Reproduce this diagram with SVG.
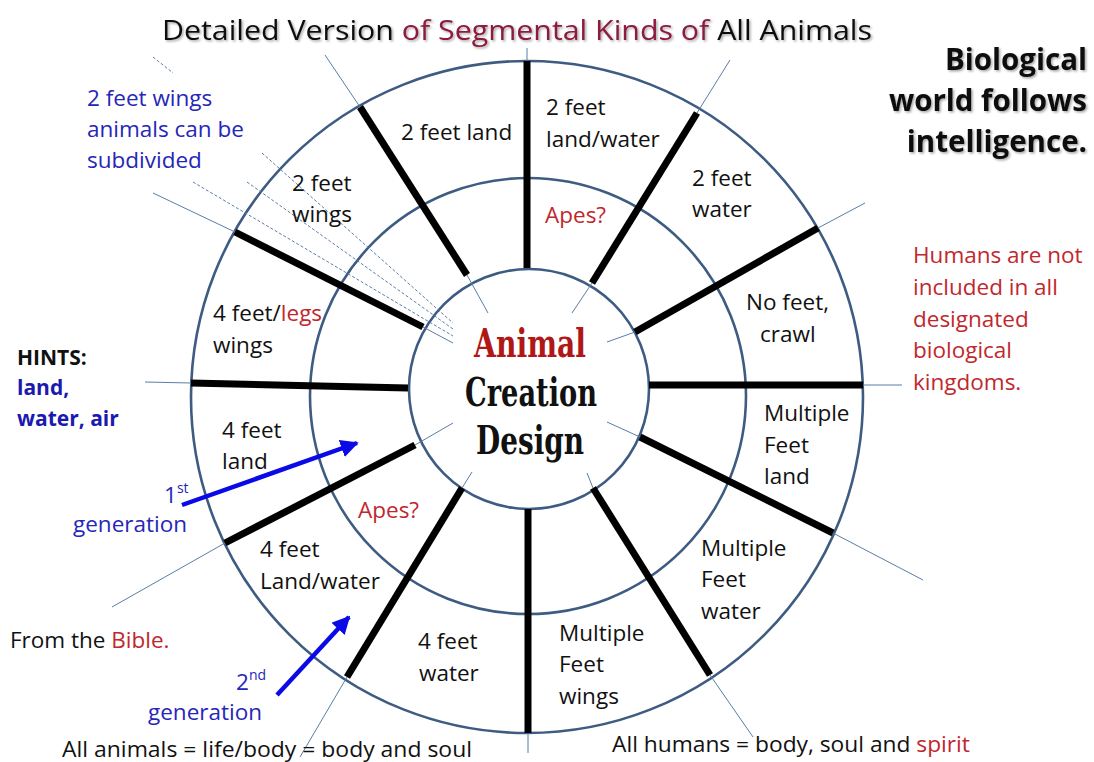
<svg xmlns="http://www.w3.org/2000/svg" width="1094" height="762" viewBox="0 0 1094 762">
<defs>
<style>
.ring{fill:none;stroke:#3E5C82;stroke-width:2.6}
.spoke{stroke:#000;stroke-width:7;stroke-linecap:butt}
.thin{stroke:#5A7DA6;stroke-width:1}
.dash{stroke:#5A7DA6;stroke-width:1;stroke-dasharray:3 2}
.t{font-family:"Open Sans","Liberation Sans",sans-serif;font-size:22.5px;fill:#111}
.red{fill:#C0282D}
.maroon{fill:#8C1A3C}
.blue{fill:#2626B8}
.bb{font-weight:bold;fill:#1A1AB0}
.b{font-weight:bold}
.arrow{stroke:#0A0AE6;stroke-width:4.5;fill:none}
.ctr{font-family:"DejaVu Serif","Liberation Serif",serif;font-weight:bold;font-size:39px}
</style>
<marker id="ah" viewBox="0 0 10 10" refX="9" refY="5" markerWidth="4" markerHeight="4" orient="auto" markerUnits="strokeWidth">
<path d="M0,0 L10,5 L0,10 z" fill="#0A0AE6"/>
</marker>
<filter id="sh" x="-5%" y="-20%" width="110%" height="150%">
<feDropShadow dx="1.5" dy="1.5" stdDeviation="1" flood-color="#000" flood-opacity="0.35"/>
</filter>
</defs>
<rect width="1094" height="762" fill="#fff"/>

<g id="title" filter="url(#sh)">
<text class="t" x="162" y="40" textLength="710" lengthAdjust="spacingAndGlyphs" style="font-size:28px">Detailed Version <tspan class="maroon">of Segmental Kinds of</tspan> All Animals</text>
</g>

<g id="rings">
<circle class="ring" cx="527" cy="397" r="336"/>
<circle class="ring" cx="528" cy="396" r="218"/>
<circle class="ring" cx="529" cy="389" r="120"/>
</g>

<g id="connectors">
<line class="thin" x1="527" y1="48" x2="527" y2="61"/>
<line class="thin" x1="697" y1="113" x2="730" y2="60"/>
<line class="thin" x1="818" y1="228" x2="865" y2="203"/>
<line class="thin" x1="863" y1="385" x2="902" y2="385"/>
<line class="thin" x1="833" y1="533" x2="923" y2="580"/>
<line class="thin" x1="710" y1="675" x2="753" y2="737"/>
<line class="thin" x1="528" y1="733" x2="528" y2="753"/>
<line class="thin" x1="347" y1="677" x2="300" y2="757"/>
<line class="thin" x1="225" y1="543" x2="112" y2="607"/>
<line class="thin" x1="191" y1="383" x2="145" y2="382"/>
<line class="thin" x1="235" y1="232" x2="153" y2="193"/>
<line class="thin" x1="360" y1="107" x2="325" y2="55"/>
<line class="thin" x1="467" y1="275" x2="488" y2="313"/>
<line class="thin" x1="592" y1="283" x2="572" y2="313"/>
<line class="thin" x1="635" y1="332" x2="607" y2="342"/>
<line class="thin" x1="640" y1="437" x2="607" y2="422"/>
<line class="thin" x1="593" y1="488" x2="587" y2="473"/>
<line class="thin" x1="462" y1="488" x2="472" y2="472"/>
<line class="thin" x1="415" y1="445" x2="453" y2="423"/>
<line class="thin" x1="423" y1="327" x2="453" y2="343"/>
<line class="dash" x1="262" y1="153" x2="453" y2="323"/>
<line class="dash" x1="247" y1="182" x2="453" y2="329"/>
<line class="dash" x1="193" y1="182" x2="453" y2="336"/>
<line class="dash" x1="153" y1="57" x2="173" y2="73"/>
</g>

<g id="spokes">
<line class="spoke" x1="527" y1="61" x2="527" y2="268"/>
<line class="spoke" x1="697" y1="113" x2="592" y2="283"/>
<line class="spoke" x1="818" y1="228" x2="635" y2="332"/>
<line class="spoke" x1="863" y1="385" x2="649" y2="385"/>
<line class="spoke" x1="833" y1="533" x2="640" y2="437"/>
<line class="spoke" x1="710" y1="675" x2="593" y2="488"/>
<line class="spoke" x1="528" y1="733" x2="528" y2="509"/>
<line class="spoke" x1="347" y1="677" x2="462" y2="488"/>
<line class="spoke" x1="225" y1="543" x2="415" y2="445"/>
<line class="spoke" x1="191" y1="383" x2="408" y2="388"/>
<line class="spoke" x1="235" y1="232" x2="423" y2="327"/>
<line class="spoke" x1="360" y1="107" x2="467" y2="275"/>
</g>

<g id="center">
<text class="ctr" x="530" y="357" text-anchor="middle" fill="#B01818" textLength="112" lengthAdjust="spacingAndGlyphs">Animal</text>
<text class="ctr" x="531" y="406" text-anchor="middle" fill="#111" textLength="132" lengthAdjust="spacingAndGlyphs">Creation</text>
<text class="ctr" x="530" y="454" text-anchor="middle" fill="#111" textLength="108" lengthAdjust="spacingAndGlyphs">Design</text>
</g>

<g id="seg-2feet-land"><text class="t" x="401" y="140">2 feet land</text></g>
<g id="seg-2feet-landwater"><text class="t" x="546" y="115">2 feet</text><text class="t" x="546" y="147">land/water</text></g>
<g id="seg-2feet-water"><text class="t" x="692" y="186">2 feet</text><text class="t" x="692" y="217">water</text></g>
<g id="seg-nofeet"><text class="t" x="746" y="310">No feet,</text><text class="t" x="760" y="342">crawl</text></g>
<g id="seg-multi-land"><text class="t" x="764" y="421">Multiple</text><text class="t" x="764" y="453">Feet</text><text class="t" x="764" y="484">land</text></g>
<g id="seg-multi-water"><text class="t" x="701" y="556">Multiple</text><text class="t" x="701" y="587">Feet</text><text class="t" x="701" y="619">water</text></g>
<g id="seg-multi-wings"><text class="t" x="559" y="641">Multiple</text><text class="t" x="559" y="672">Feet</text><text class="t" x="559" y="704">wings</text></g>
<g id="seg-4feet-water"><text class="t" x="418" y="649">4 feet</text><text class="t" x="419" y="681">water</text></g>
<g id="seg-4feet-landwater"><text class="t" x="260" y="557">4 feet</text><text class="t" x="260" y="589">Land/water</text></g>
<g id="seg-4feet-land"><text class="t" x="222" y="438">4 feet</text><text class="t" x="222" y="469">land</text></g>
<g id="seg-4feet-wings"><text class="t" x="213" y="321">4 feet/<tspan class="red">legs</tspan></text><text class="t" x="213" y="353">wings</text></g>
<g id="seg-2feet-wings"><text class="t" x="292" y="191">2 feet</text><text class="t" x="292" y="222">wings</text></g>
<g id="apes-top"><text class="t red" x="545" y="223">Apes?</text></g>
<g id="apes-bottom"><text class="t red" x="358" y="518">Apes?</text></g>

<g id="note-biological" filter="url(#sh)">
<text class="t b" x="1087" y="70" text-anchor="end" style="font-size:29.5px">Biological</text>
<text class="t b" x="1087" y="111" text-anchor="end" style="font-size:29.5px">world follows</text>
<text class="t b" x="1087" y="152" text-anchor="end" style="font-size:29.5px">intelligence.</text>
</g>

<g id="note-humans">
<text class="t red" x="913" y="263">Humans are not</text>
<text class="t red" x="913" y="295">included in all</text>
<text class="t red" x="913" y="327">designated</text>
<text class="t red" x="913" y="358">biological</text>
<text class="t red" x="913" y="390">kingdoms.</text>
</g>

<g id="note-subdivided">
<text class="t blue" x="87" y="106">2 feet wings</text>
<text class="t blue" x="87" y="137">animals can be</text>
<text class="t blue" x="87" y="168">subdivided</text>
</g>

<g id="note-hints">
<text class="t b" x="17" y="365" style="font-size:21px">HINTS:</text>
<text class="t bb" x="17" y="395" style="font-size:21px">land,</text>
<text class="t bb" x="17" y="426" style="font-size:21px">water, air</text>
</g>

<g id="gen1">
<line class="arrow" x1="182" y1="505" x2="357" y2="443" marker-end="url(#ah)"/>
<text class="t blue" x="164" y="503">1<tspan font-size="14" dy="-10">st</tspan></text>
<text class="t blue" x="73" y="532">generation</text>
</g>
<g id="gen2">
<line class="arrow" x1="277" y1="695" x2="349" y2="617" marker-end="url(#ah)"/>
<text class="t blue" x="236" y="690">2<tspan font-size="14" dy="-10">nd</tspan></text>
<text class="t blue" x="148" y="720">generation</text>
</g>

<g id="note-bible"><text class="t" x="10" y="648">From the <tspan class="red">Bible.</tspan></text></g>
<g id="note-animals"><text class="t" x="62" y="757" textLength="410" lengthAdjust="spacingAndGlyphs">All animals = life/body = body and soul</text></g>
<g id="note-humans-spirit"><text class="t" x="612" y="752" textLength="358" lengthAdjust="spacingAndGlyphs">All humans = body, soul and <tspan class="red">spirit</tspan></text></g>
</svg>
